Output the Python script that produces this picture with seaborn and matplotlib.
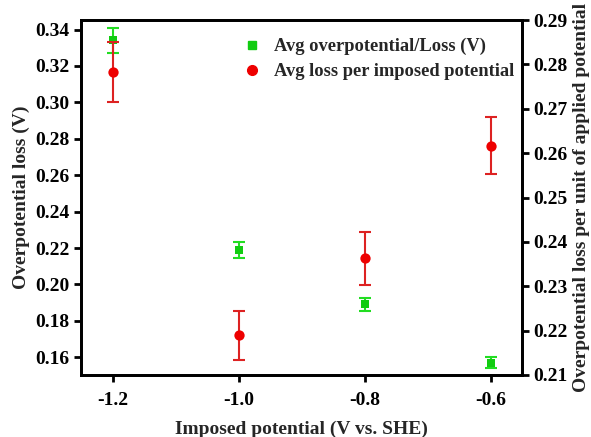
import numpy as np
import pandas as pd
import matplotlib
matplotlib.use("Agg")
import matplotlib.pyplot as plt
import seaborn as sns

# values
potential = [-1.2, -1.0, -0.8, -0.6]
avg_loss = [0.334, 0.219, 0.189, 0.157]
avg_loss_err = [0.0068, 0.0043, 0.0036, 0.003]
loss_per_pot = [0.2783, 0.2189, 0.2363, 0.2617]
loss_per_pot_err = [0.0068, 0.0055, 0.006, 0.0065]

df = pd.DataFrame({"potential": potential, "avg_loss": avg_loss,
                   "loss_per_pot": loss_per_pot})

sns.set_theme(style="ticks")
plt.rcParams['font.family'] = ['Liberation Serif', 'DejaVu Serif']
plt.rcParams['font.weight'] = 'bold'
plt.rcParams['axes.labelweight'] = 'bold'

fig, ax = plt.subplots(figsize=(5.91, 4.37), dpi=100)
ax2 = ax.twinx()

green = '#11cc11'
red = '#ee0000'

ax.errorbar(potential, avg_loss, yerr=avg_loss_err, fmt='none', ecolor='#22dd22',
            elinewidth=1.5, capsize=4, capthick=1.5, zorder=2)
sns.scatterplot(data=df, x='potential', y='avg_loss', ax=ax, marker='s', s=40,
                color=green, edgecolor=green, linewidth=0, zorder=3)

ax2.errorbar(potential, loss_per_pot, yerr=loss_per_pot_err, fmt='none', ecolor='#dd2222',
             elinewidth=1.5, capsize=4, capthick=1.5, zorder=2)
sns.scatterplot(data=df, x='potential', y='loss_per_pot', ax=ax2, marker='o', s=55,
                color=red, edgecolor=red, linewidth=0, zorder=3)

ax.set_xlim(-1.251, -0.551)
ax.set_ylim(0.1503, 0.3452)
ax2.set_ylim(0.21, 0.29)
ax.set_xticks([-1.2, -1.0, -0.8, -0.6])
ax.set_yticks(np.arange(0.16, 0.341, 0.02))
ax2.set_yticks(np.arange(0.21, 0.291, 0.01))
ax.xaxis.set_major_formatter(matplotlib.ticker.FormatStrFormatter('%.1f'))
ax.yaxis.set_major_formatter(matplotlib.ticker.FormatStrFormatter('%.2f'))
ax2.yaxis.set_major_formatter(matplotlib.ticker.FormatStrFormatter('%.2f'))

ax.set_xlabel('Imposed potential (V vs. SHE)', fontsize=14, fontweight='bold', labelpad=9)
ax.set_ylabel('Overpotential loss (V)', fontsize=14, fontweight='bold', labelpad=4)
ax2.set_ylabel('Overpotential loss per unit of applied potential', fontsize=14,
               fontweight='bold', labelpad=4)

for a in (ax, ax2):
    for sp in a.spines.values():
        sp.set_linewidth(2)
        sp.set_color('black')
    a.tick_params(direction='out', width=2, length=5, labelsize=14, colors='black', pad=3)
    for lab in a.get_xticklabels() + a.get_yticklabels():
        lab.set_fontweight('bold')
ax.tick_params(axis='x', pad=7)

h1 = plt.Line2D([], [], marker='s', color=green, linestyle='none', markersize=6)
h2 = plt.Line2D([], [], marker='o', color=red, linestyle='none', markersize=7)
ax2.legend([h1, h2], ['Avg overpotential/Loss (V)', 'Avg loss per imposed potential'],
           loc='upper right', bbox_to_anchor=(1.02, 0.997), frameon=False,
           prop={'size': 13.3, 'weight': 'bold'}, handletextpad=0.2, labelspacing=0.45)

fig.subplots_adjust(left=0.137, right=0.883, top=0.954, bottom=0.142)
fig.savefig('out.png', dpi=100)
